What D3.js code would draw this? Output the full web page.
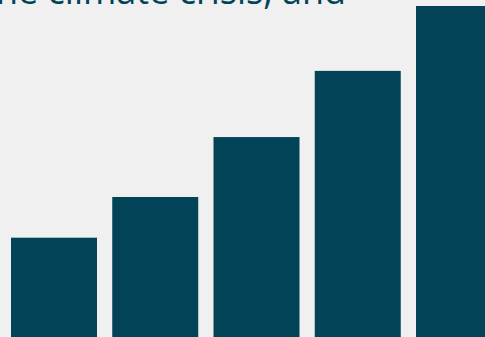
<!DOCTYPE html>
<html>
<head>
<meta charset="utf-8">
<script src="https://cdn.jsdelivr.net/npm/d3@7"></script>
<style>
  html, body { margin: 0; padding: 0; background: #f0f0f0; overflow: hidden; }
  #chart { width: 485px; height: 337px; }
</style>
</head>
<body>
<div id="chart"></div>
<script>
var categories = ["A", "B", "C", "D", "E"];
var values = [30, 42.3, 60.4, 80.4, 100];
var titleText = "the climate crisis, and";

var width = 485;
var height = 337;

var svg = d3.select("#chart").append("svg")
    .attr("width", width)
    .attr("height", height);

var xScale = d3.scaleBand()
    .domain(categories)
    .range([11, 502])
    .paddingInner(0.1506)
    .paddingOuter(0);

var yScale = d3.scaleLinear()
    .domain([0, 100])
    .range([337, 6]);

// title, mostly cut off by the top edge
svg.append("text")
    .attr("x", 346)
    .attr("y", 4)
    .attr("text-anchor", "end")
    .style("font-family", "Open Sans")
    .style("font-size", "36px")
    .style("fill", "#034357")
    .text(titleText);

svg.selectAll("rect")
    .data(values)
    .enter()
    .append("rect")
    .attr("x", function(d, i) { return xScale(categories[i]); })
    .attr("y", function(d) { return yScale(d); })
    .attr("width", xScale.bandwidth())
    .attr("height", function(d) { return yScale(0) - yScale(d); })
    .attr("fill", "#034357");
</script>
</body>
</html>
